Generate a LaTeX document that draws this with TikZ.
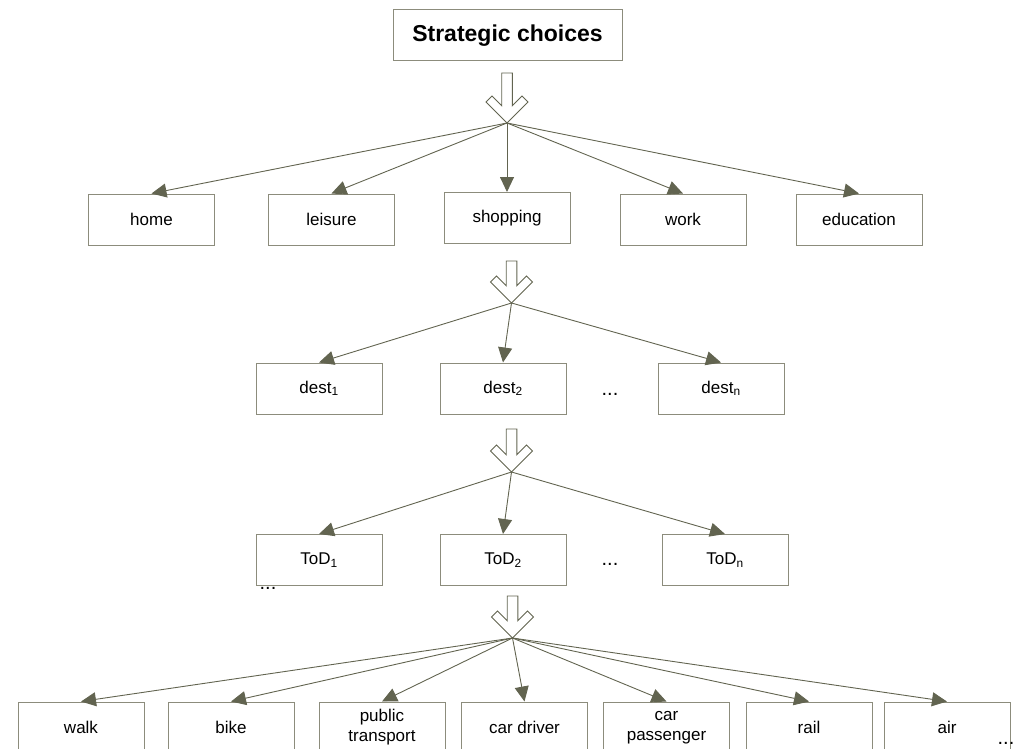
\documentclass[tikz,border=0pt]{standalone}
\usepackage{fontspec}
\setmainfont{Liberation Sans}
\usetikzlibrary{arrows.meta}
\definecolor{linec}{RGB}{98,100,80}
\definecolor{boxc}{RGB}{140,140,124}
\tikzset{
  pics/downarrow/.style={code={
    \draw[draw=linec, line width=0.9pt, fill=white, line join=miter]
      (0,0) -- (21,-21) -- (15,-27) -- (5.3,-17.3) -- (5.3,-#1)
      -- (-5.3,-#1) -- (-5.3,-17.3) -- (-15,-27) -- (-21,-21) -- cycle;
  }}
}
\begin{document}
\begin{tikzpicture}[x=1pt,y=-1pt,
  box/.style={draw=boxc, line width=1pt, minimum width=126pt, minimum height=51pt,
    inner sep=0pt, align=center, font=\fontsize{17}{20}\selectfont},
  titlebox/.style={box, minimum width=229pt, font=\fontsize{23}{27}\selectfont\bfseries},
  link/.style={draw=linec, line width=0.9pt, -{Triangle[length=15pt,width=14pt]}},
  dots/.style={inner sep=0pt, anchor=base, font=\fontsize{20}{22}\selectfont}
]
\clip (0,0) rectangle (1017,749);

% top of the tree
\node[titlebox] (title) at (507.5,35.5) {Strategic choices};

% fan-out points below each hollow arrow
\coordinate (fan1) at (507,123);
\coordinate (fan2) at (511.5,303);
\coordinate (fan3) at (511.5,472);
\coordinate (fan4) at (512.5,638);

\pic at (fan1) {downarrow=50};
\pic at (fan2) {downarrow=42};
\pic at (fan3) {downarrow=43};
\pic at (fan4) {downarrow=42};

% activity purposes
\node[box] (home)      at (151.5,219.5) {home};
\node[box] (leisure)   at (331.5,219.5) {leisure};
\node[box] (shopping)  at (507,218)     {shopping};
\node[box] (work)      at (683,219.5)   {work};
\node[box] (education) at (859,219.5)   {education};

% destinations
\node[box] (dest1) at (319,388.5) {dest\textsubscript{1}};
\node[box] (dest2) at (503,388.5) {dest\textsubscript{2}};
\node[box] (destn) at (721,388.5) {dest\textsubscript{n}};
\node[dots] (destdots) at (610,395) {...};

% time of day
\node[box] (tod1) at (319,560) {ToD\textsubscript{1}};
\node[box] (tod2) at (503,560) {ToD\textsubscript{2}};
\node[box] (todn) at (725,560) {ToD\textsubscript{n}};
\node[dots] (toddots) at (610,565) {...};
\node[dots] (toddotsb) at (268,589) {...};

% modes
\node[box] (walk)   at (81,727.5)    {walk};
\node[box] (bike)   at (231,727.5)   {bike};
\node[box] (pt)     at (382,727.5)   {public\\transport};
\node[box] (cardr)  at (524.5,727.5) {car driver};
\node[box] (carpas) at (666.5,727.5) {car\\passenger};
\node[box] (rail)   at (809,727.5)   {rail};
\node[box] (air)    at (947,727.5)   {air};
\node[dots] (modedots) at (1006,744.5) {...};

% connectors
\foreach \t in {home,leisure,shopping,work,education}
  \draw[link] (fan1) -- (\t.north);
\foreach \t in {dest1,dest2,destn}
  \draw[link] (fan2) -- (\t.north);
\foreach \t in {tod1,tod2,todn}
  \draw[link] (fan3) -- (\t.north);
\foreach \t in {walk,bike,pt,cardr,carpas,rail,air}
  \draw[link] (fan4) -- (\t.north);
\end{tikzpicture}
\end{document}
